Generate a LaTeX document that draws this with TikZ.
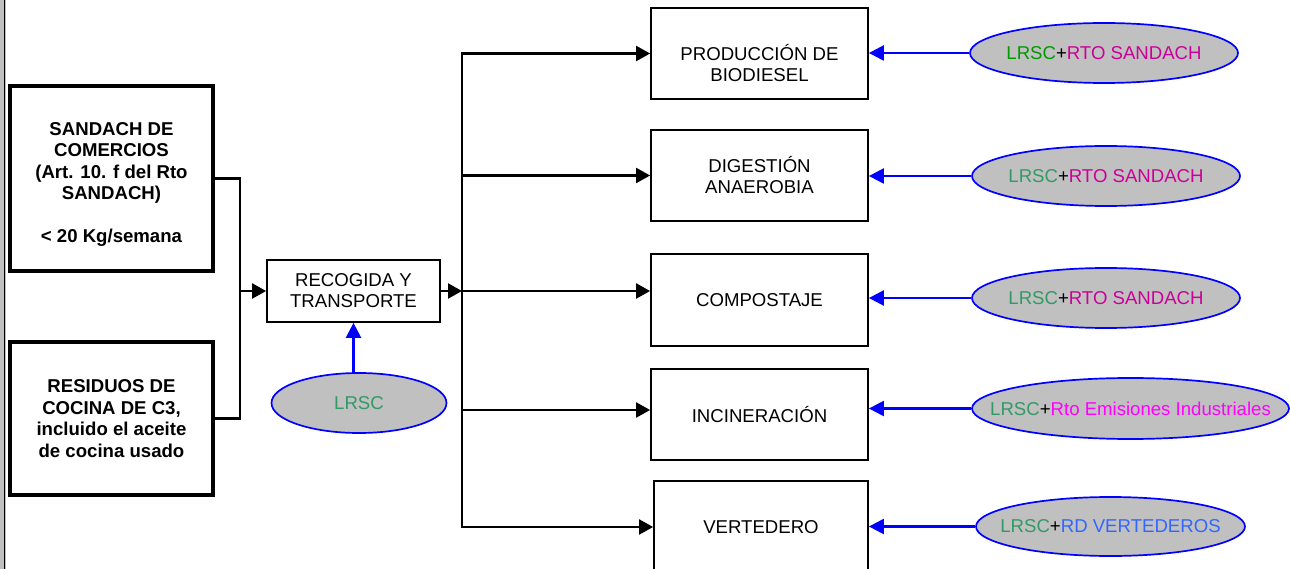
\documentclass[tikz,border=0pt]{standalone}
\usepackage{fontspec}
\setmainfont{Liberation Sans}
\usetikzlibrary{arrows.meta,shapes.geometric}
\definecolor{gA}{HTML}{009900}
\definecolor{gB}{HTML}{339966}
\definecolor{pk}{HTML}{CC0099}
\definecolor{mg}{HTML}{FF00FF}
\definecolor{bl}{HTML}{3366FF}
\definecolor{fillg}{HTML}{C0C0C0}
\newcommand{\zw}[1]{\makebox[0pt][c]{#1}}
\begin{document}
\begin{tikzpicture}[x=1pt,y=-1pt,
  txt/.style={font=\fontsize{18.6pt}{21pt}\selectfont, align=center},
  boldtxt/.style={font=\fontsize{18.6pt}{21.5pt}\selectfont\bfseries, align=center},
  srcbox/.style={draw, line width=4pt, boldtxt, minimum width=203pt, inner sep=0pt},
  procbox/.style={txt, draw, line width=1.8pt, minimum width=217pt, minimum height=91pt, inner sep=0pt},
  lawell/.style={ellipse, draw=blue, line width=1.7pt, fill=fillg, txt, inner sep=0pt},
  flow/.style={draw, line width=2.2pt, -{Triangle[length=14pt,width=15pt]}},
  plain/.style={line width=2.2pt},
  lawarrow/.style={draw=blue, line width=2.4pt, -{Triangle[length=15pt,width=15pt]}}
]
\useasboundingbox (0,0) rectangle (1290,569);
\clip (0,0) rectangle (1290,569);
\fill[fillg] (0,0) rectangle (6,569);
\draw[line width=1.4pt] (4.3,0) -- (4.3,569);

% sources
\node[srcbox, minimum height=185pt, label={[boldtxt, yshift=-6pt]center:{SANDACH DE\\COMERCIOS\\(Art. 10. f del Rto\\SANDACH)\\[21.5pt]< 20 Kg/semana}}] (src1) at (111.5,178.5) {};
\node[srcbox, minimum height=153pt] (src2) at (111.5,418.5) {RESIDUOS DE\\COCINA DE C3,\\incluido el aceite\\de cocina usado};

% collection
\node[procbox, minimum width=173pt, minimum height=62pt] (rec) at (353.5,291) {RECOGIDA Y\\TRANSPORTE};
\node[lawell, minimum width=175pt, minimum height=60pt] (lrsc) at (359,403) {\zw{\raisebox{-4pt}{\textcolor{gB}{LRSC}}}};

% treatments
\node[procbox, label={[txt, yshift=-10pt]center:{PRODUCCIÓN DE\\BIODIESEL}}] (prod) at (759.5,53.5) {};
\node[procbox] (dig) at (759.5,175.5) {DIGESTIÓN\\ANAEROBIA};
\node[procbox, minimum height=92pt] (comp) at (759.5,300) {COMPOSTAJE};
\node[procbox] (inc) at (759.5,414.5) {INCINERACIÓN};
\node[procbox, minimum width=214pt, minimum height=92pt] (vert) at (761,527) {VERTEDERO};

% legislation
\node[lawell, minimum width=268pt, minimum height=60pt] (e1) at (1104,53) {\zw{\textcolor{gA}{LRSC}+\textcolor{pk}{RTO SANDACH}}};
\node[lawell, minimum width=268pt, minimum height=60pt] (e2) at (1106,176) {\zw{\textcolor{gB}{LRSC}+\textcolor{pk}{RTO SANDACH}}};
\node[lawell, minimum width=268pt, minimum height=60pt] (e3) at (1106,298) {\zw{\textcolor{gB}{LRSC}+\textcolor{pk}{RTO SANDACH}}};
\node[lawell, minimum width=317pt, minimum height=61pt] (e4) at (1130.5,408.5) {\zw{\textcolor{gB}{LRSC}+\textcolor{mg}{Rto Emisiones Industriales}}};
\node[lawell, minimum width=269pt, minimum height=59pt] (e5) at (1110.5,526.5) {\zw{\textcolor{gB}{LRSC}+\textcolor{bl}{RD VERTEDEROS}}};

% junction points
\coordinate (j) at (240,291);
\coordinate (t1) at (462,53.5);
\coordinate (t2) at (462,175.5);
\coordinate (t3) at (462,291);
\coordinate (t4) at (462,410);
\coordinate (t5) at (462,527);

% black connectors
\draw[plain] (src1.east) -| (j) |- (src2.east);
\draw[flow] (j) -- (rec.west);
\draw[flow] (rec.east) -- (t3);
\draw[line width=2.2pt, {Triangle[length=14pt,width=15pt]}-{Triangle[length=14pt,width=15pt]}] (prod.west) -- (t1) -- (t5) -- (vert.west |- t5);
\draw[flow] (t2) -- (dig.west);
\draw[flow] (t3) -- (comp.west |- t3);
\draw[flow] (t4) -- (inc.west |- t4);

% blue connectors
\draw[lawarrow] (rec.south |- lrsc.north) -- (rec.south);
\draw[lawarrow] (e1.west) -- (prod.east |- e1.west);
\draw[lawarrow] (e2.west) -- (dig.east |- e2.west);
\draw[lawarrow] (e3.west) -- (comp.east |- e3.west);
\draw[lawarrow] (e4.west) -- (inc.east |- e4.west);
\draw[lawarrow] (e5.west) -- (vert.east |- e5.west);
\end{tikzpicture}
\end{document}
